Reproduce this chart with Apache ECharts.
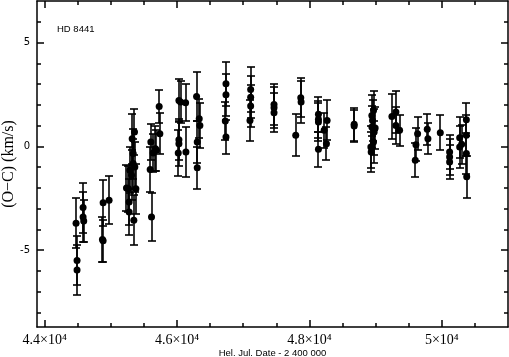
<!DOCTYPE html>
<html>
<head>
<meta charset="utf-8">
<script src="https://cdn.jsdelivr.net/npm/echarts@6/dist/echarts.min.js"></script>
<style>html,body{margin:0;padding:0;background:#fff}#c{width:509px;height:357px}</style>
</head>
<body>
<div id="c"></div>
<script>
var jd = [44474,44489,44489,44580,44580,44590,44883,44873,44883,44973,
  45236,45266,45276,45276,45287,45312,45322,45337,45337,45347,45357,45362,45378,
  45594,45604,45614,45639,45674,45689,45730,45740,
  46028,46053,46028,46028,46018,46129,46134,
  46295,46305,46305,46335,46345,
  46739,46739,46729,46739,
  47112,47112,47112,47102,
  47465,47465,47465,
  47793,47869,47874,
  48136,48136,48136,48136,48222,48267,48257,
  48676,48676,
  48943,48968,48953,48943,48993,48978,48968,48928,48933,
  49246,49306,49306,49362,
  49599,49609,49634,
  49780,49790,
  49977,
  50118,50118,50118,
  50270,50270,50300,50371,50371,50371,50376];
var oc = [-3.70,-5.50,-5.96,-2.95,-3.40,-3.59,-2.72,-4.49,-4.55,-2.60,
  -2.00,-2.04,-2.68,-3.16,-1.15,-1.39,0.37,-0.35,-0.83,-3.56,0.69,-0.99,-2.04,
  -1.12,0.21,-3.40,-0.32,-0.11,-0.19,1.92,0.61,
  2.21,2.13,0.32,0.13,-0.32,2.10,-0.27,
  2.40,0.21,-1.03,1.33,1.01,
  3.01,2.48,1.22,0.45,
  2.74,2.37,1.94,1.25,
  2.02,1.86,1.62,
  0.54,2.34,2.13,
  1.54,1.30,1.17,-0.14,0.77,1.25,0.13,
  1.06,0.98,
  1.49,1.73,1.25,0.93,0.88,0.69,0.21,-0.03,-0.27,
  1.44,1.65,1.01,0.77,
  -0.67,0.08,0.61,
  0.82,0.37,
  0.66,
  -0.27,-0.51,-0.75,
  0.42,-0.03,0.10,1.28,0.53,-0.35,-1.47];
var err = [1.2,1.2,1.2,1.2,1.2,1.0,1.12,1.1,1.0,1.15,
  1.1,1.1,1.1,1.1,1.1,1.2,1.2,1.2,1.2,1.2,1.1,1.2,1.2,
  1.1,0.85,1.15,0.9,1.1,1.0,0.8,1.0,
  1.05,1.0,1.0,1.1,1.1,0.9,1.2,
  1.2,1.0,1.0,0.95,1.1,
  1.05,1.0,0.9,0.8,
  1.07,1.0,1.0,1.0,
  1.0,1.0,0.95,
  1.0,0.95,1.0,
  0.85,0.9,0.9,0.85,0.85,0.96,0.8,
  0.8,0.75,
  1.0,0.95,1.0,1.0,1.0,1.1,1.0,1.0,0.95,
  1.1,1.0,0.9,0.75,
  0.83,0.8,0.8,
  0.75,0.75,
  0.85,
  0.8,0.85,0.8,
  1.0,1.0,0.95,0.8,1.0,1.0,1.0];
var xMajor = [44000,46000,48000,50000];
var xMinor = [44500,45000,45500,46500,47000,47500,48500,49000,49500,50500];
var yMajor = [-5,0,5];
var yMinor = [-8,-7,-6,-4,-3,-2,-1,1,2,3,4,6];
var labelText = 'HD 8441';

var pts = jd.map(function(v,i){return [v, oc[i], err[i]];});
var X0 = 43884, X1 = 51000, Y0 = -8.7, Y1 = 7.0;

function xFmt(v){
  var m = v/10000;
  var s = (Math.round(m*10)/10).toString();
  return s + '\u00d710\u2074';
}
function mkX(pos, ticks, len, showLabel, showLine){
  return {type:'value', min:X0, max:X1, position:pos, gridIndex:0,
    axisLine:{show:showLine, onZero:false, lineStyle:{color:'#000',width:1.5}},
    axisTick:{show:true, inside:true, length:len, customValues:ticks, lineStyle:{color:'#000',width:1.5}},
    axisLabel:{show:showLabel, customValues:ticks, formatter:xFmt, color:'#000', fontFamily:'Liberation Serif', fontSize:14, margin:6},
    splitLine:{show:false}};
}
function mkY(pos, ticks, len, showLabel, showLine){
  return {type:'value', min:Y0, max:Y1, position:pos, gridIndex:0,
    axisLine:{show:showLine, onZero:false, lineStyle:{color:'#000',width:1.5}},
    axisTick:{show:true, inside:true, length:len, customValues:ticks, lineStyle:{color:'#000',width:1.5}},
    axisLabel:{show:showLabel, customValues:ticks, color:'#000', fontFamily:'DejaVu Sans', fontSize:10, margin:7},
    splitLine:{show:false}};
}
var xb = mkX('bottom', xMajor, 7, true, true);
xb.name = 'Hel. Jul. Date - 2 400 000';
xb.nameLocation = 'middle'; xb.nameGap = 21; xb.nameMoveOverlap = false;
xb.nameTextStyle = {color:'#000', fontFamily:'Liberation Sans', fontSize:9.5};
var yl = mkY('left', yMajor, 7, true, true);
yl.name = '(O\u2212C) (km/s)';
yl.nameLocation = 'middle'; yl.nameGap = 20; yl.nameMoveOverlap = false;
yl.nameTextStyle = {color:'#000', fontFamily:'Liberation Serif', fontSize:16};

var chart = echarts.init(document.getElementById('c'), null, {renderer:'canvas'});
chart.setOption({
  animation:false,
  backgroundColor:'#fff',
  title:{text:labelText, left:57, top:24, padding:0, textStyle:{fontFamily:'Liberation Sans', fontSize:9.5, fontWeight:'normal', color:'#000'}},
  grid:{left:37, right:1, top:1, bottom:30, containLabel:false, outerBoundsMode:'none'},
  xAxis:[xb, mkX('bottom', xMinor, 4, false, false), mkX('top', xMajor, 7, false, true), mkX('top', xMinor, 4, false, false)],
  yAxis:[yl, mkY('left', yMinor, 4, false, false), mkY('right', yMajor, 7, false, true), mkY('right', yMinor, 4, false, false)],
  series:[
    {type:'custom', xAxisIndex:0, yAxisIndex:0, data:pts, encode:{x:0,y:1}, clip:true,
      renderItem:function(params, api){
        var x = api.value(0), y = api.value(1), e = api.value(2);
        var t = api.coord([x, y+e]), b = api.coord([x, y-e]);
        var cx = Math.round(t[0]), ty = Math.round(t[1]), by = Math.round(b[1]);
        var w = 4;
        var st = {stroke:'#000', lineWidth:1.6};
        return {type:'group', children:[
          {type:'line', shape:{x1:cx,y1:ty,x2:cx,y2:by}, style:st},
          {type:'line', shape:{x1:cx-w,y1:ty,x2:cx+w,y2:ty}, style:st},
          {type:'line', shape:{x1:cx-w,y1:by,x2:cx+w,y2:by}, style:st}
        ]};
      }},
    {type:'scatter', xAxisIndex:0, yAxisIndex:0, data:pts, symbol:'circle', symbolSize:7,
      itemStyle:{color:'#000', opacity:1}}
  ]
});
</script>
</body>
</html>
